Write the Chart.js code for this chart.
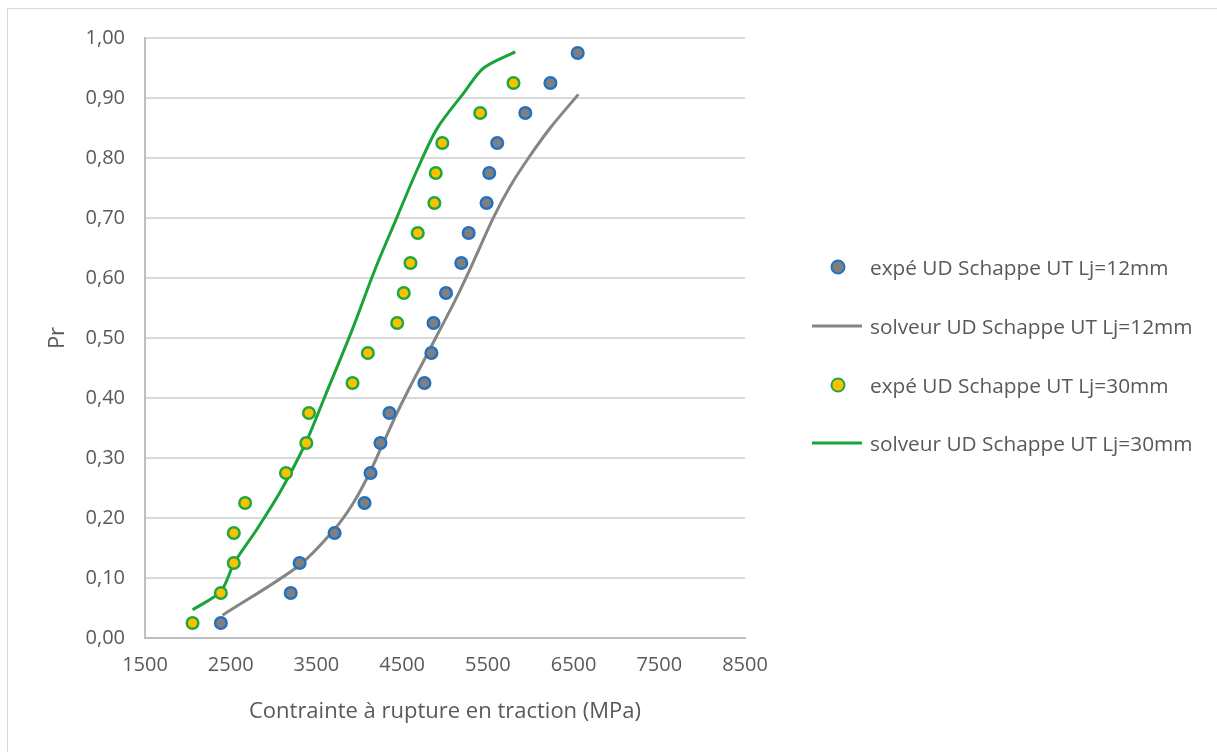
<!DOCTYPE html>
<html>
<head>
<meta charset="utf-8">
<script src="https://cdn.jsdelivr.net/npm/chart.js@4/dist/chart.umd.min.js"></script>
<style>
  html, body { margin: 0; padding: 0; background: #ffffff; }
  #wrap { position: relative; width: 1217px; height: 752px; overflow: hidden; font-family: "Open Sans", sans-serif; }
  #frame { position: absolute; left: 7px; top: 8px; width: 1300px; height: 800px; border: 1px solid #d9d9d9; box-sizing: border-box; }
  #chartBox { position: absolute; left: 0; top: 0; width: 1217px; height: 752px; }
  .leg { position: absolute; left: 870px; font-size: 20.8px; color: #595959; line-height: 24px; white-space: nowrap; transform: translateY(-50%); }
  .mk { position: absolute; width: 11px; height: 11px; border-radius: 50%; border-width: 2.5px; border-style: solid; transform: translate(-50%, -50%); }
  .ln { position: absolute; width: 50px; height: 3px; transform: translateY(-50%); }
</style>
</head>
<body>
<div id="wrap">
  <div id="frame"></div>
  <div id="chartBox"><canvas id="c"></canvas></div>
  <div class="mk" style="left:838px; top:267px; background:#7f7f7f; border-color:#2471c0;"></div>
  <div class="leg" style="top:267px;">expé UD Schappe UT Lj=12mm</div>
  <div class="ln" style="left:812px; top:326px; background:#858585;"></div>
  <div class="leg" style="top:326px;">solveur UD Schappe UT Lj=12mm</div>
  <div class="mk" style="left:838px; top:385px; background:#ffc000; border-color:#1ea840;"></div>
  <div class="leg" style="top:385px;">expé UD Schappe UT Lj=30mm</div>
  <div class="ln" style="left:812px; top:443px; background:#19a33a;"></div>
  <div class="leg" style="top:443px;">solveur UD Schappe UT Lj=30mm</div>
</div>
<script>
// Tick labels
const xTicks = [1500, 2500, 3500, 4500, 5500, 6500, 7500, 8500];
const yTicks = [0, 0.1, 0.2, 0.3, 0.4, 0.5, 0.6, 0.7, 0.8, 0.9, 1.0];

// expé UD Schappe UT Lj=12mm
const expe12Stress = [2385, 3200, 3304, 3712, 4061, 4131, 4247, 4352, 4760, 4841, 4866, 5012, 5190, 5276, 5485, 5516, 5609, 5937, 6230, 6548];
const expe12Pr     = [0.025, 0.075, 0.125, 0.175, 0.225, 0.275, 0.325, 0.375, 0.425, 0.475, 0.525, 0.575, 0.625, 0.675, 0.725, 0.775, 0.825, 0.875, 0.925, 0.975];

// solveur UD Schappe UT Lj=12mm
const solv12Stress = [2405, 3290, 3704, 3930, 4120, 4280, 4440, 4615, 4800, 4960, 5120, 5315, 5566, 5761, 5974, 6227, 6556];
const solv12Pr     = [0.038, 0.120, 0.180, 0.225, 0.275, 0.325, 0.375, 0.425, 0.475, 0.519, 0.563, 0.622, 0.701, 0.753, 0.800, 0.850, 0.906];

// expé UD Schappe UT Lj=30mm
const expe30Stress = [2055, 2385, 2536, 2536, 2668, 3145, 3382, 3413, 3921, 4100, 4442, 4519, 4597, 4682, 4876, 4892, 4969, 5411, 5799];
const expe30Pr     = [0.025, 0.075, 0.125, 0.175, 0.225, 0.275, 0.325, 0.375, 0.425, 0.475, 0.525, 0.575, 0.625, 0.675, 0.725, 0.775, 0.825, 0.875, 0.925];

// solveur UD Schappe UT Lj=30mm
const solv30Stress = [2055, 2385, 2540, 2800, 3083, 3374, 3600, 3918, 4180, 4442, 4674, 4907, 5217, 5450, 5819];
const solv30Pr     = [0.047, 0.078, 0.125, 0.180, 0.245, 0.325, 0.403, 0.514, 0.613, 0.702, 0.780, 0.849, 0.908, 0.950, 0.977];

const pts = (xs, ys) => xs.map((x, i) => ({ x: x, y: ys[i] }));

const textColor = '#595959';
const font = { family: '"Open Sans", sans-serif', size: 20 };

new Chart(document.getElementById('c'), {
  type: 'scatter',
  data: {
    datasets: [
      {
        label: 'expé UD Schappe UT Lj=12mm',
        data: pts(expe12Stress, expe12Pr),
        showLine: false,
        pointRadius: 5.8,
        pointBorderWidth: 2.5,
        backgroundColor: '#7f7f7f',
        borderColor: '#2471c0',
        order: 1
      },
      {
        label: 'solveur UD Schappe UT Lj=12mm',
        data: pts(solv12Stress, solv12Pr),
        showLine: true,
        pointRadius: 0,
        borderWidth: 3,
        borderColor: '#858585',
        backgroundColor: '#858585',
        tension: 0.3,
        order: 2
      },
      {
        label: 'expé UD Schappe UT Lj=30mm',
        data: pts(expe30Stress, expe30Pr),
        showLine: false,
        pointRadius: 5.8,
        pointBorderWidth: 2.5,
        backgroundColor: '#ffc000',
        borderColor: '#1ea840',
        order: 1
      },
      {
        label: 'solveur UD Schappe UT Lj=30mm',
        data: pts(solv30Stress, solv30Pr),
        showLine: true,
        pointRadius: 0,
        borderWidth: 3,
        borderColor: '#19a33a',
        backgroundColor: '#19a33a',
        tension: 0.3,
        order: 2
      }
    ]
  },
  options: {
    responsive: true,
    maintainAspectRatio: false,
    animation: false,
    layout: { padding: { left: 45, top: 38, right: 472, bottom: 27 } },
    plugins: { legend: { display: false }, tooltip: { enabled: false } },
    scales: {
      x: {
        type: 'linear',
        min: xTicks[0],
        max: xTicks[xTicks.length - 1],
        afterBuildTicks: (s) => { s.ticks = xTicks.map(v => ({ value: v })); },
        afterFit: (s) => { s.height = 87; },
        grid: { display: false, drawTicks: false },
        border: { display: true, color: '#bfbfbf', width: 2 },
        ticks: { color: textColor, font: font, padding: 15, maxRotation: 0, callback: (v) => String(v) },
        title: { display: true, text: 'Contrainte à rupture en traction (MPa)', color: textColor, font: { family: '"Open Sans", sans-serif', size: 22 }, padding: { top: 14, bottom: 0 } }
      },
      y: {
        type: 'linear',
        min: yTicks[0],
        max: yTicks[yTicks.length - 1],
        afterBuildTicks: (s) => { s.ticks = yTicks.map(v => ({ value: v })); },
        afterFit: (s) => { s.width = 100; },
        grid: { color: '#d9d9d9', lineWidth: 2, drawTicks: false },
        border: { display: true, color: '#bfbfbf', width: 2 },
        ticks: { color: textColor, font: font, padding: 20, callback: (v) => Number(v).toFixed(2).replace('.', ',') },
        title: { display: true, text: 'Pr', color: textColor, font: { family: '"Open Sans", sans-serif', size: 22 }, padding: { top: 0, bottom: 0 } }
      }
    }
  }
});
</script>
</body>
</html>
